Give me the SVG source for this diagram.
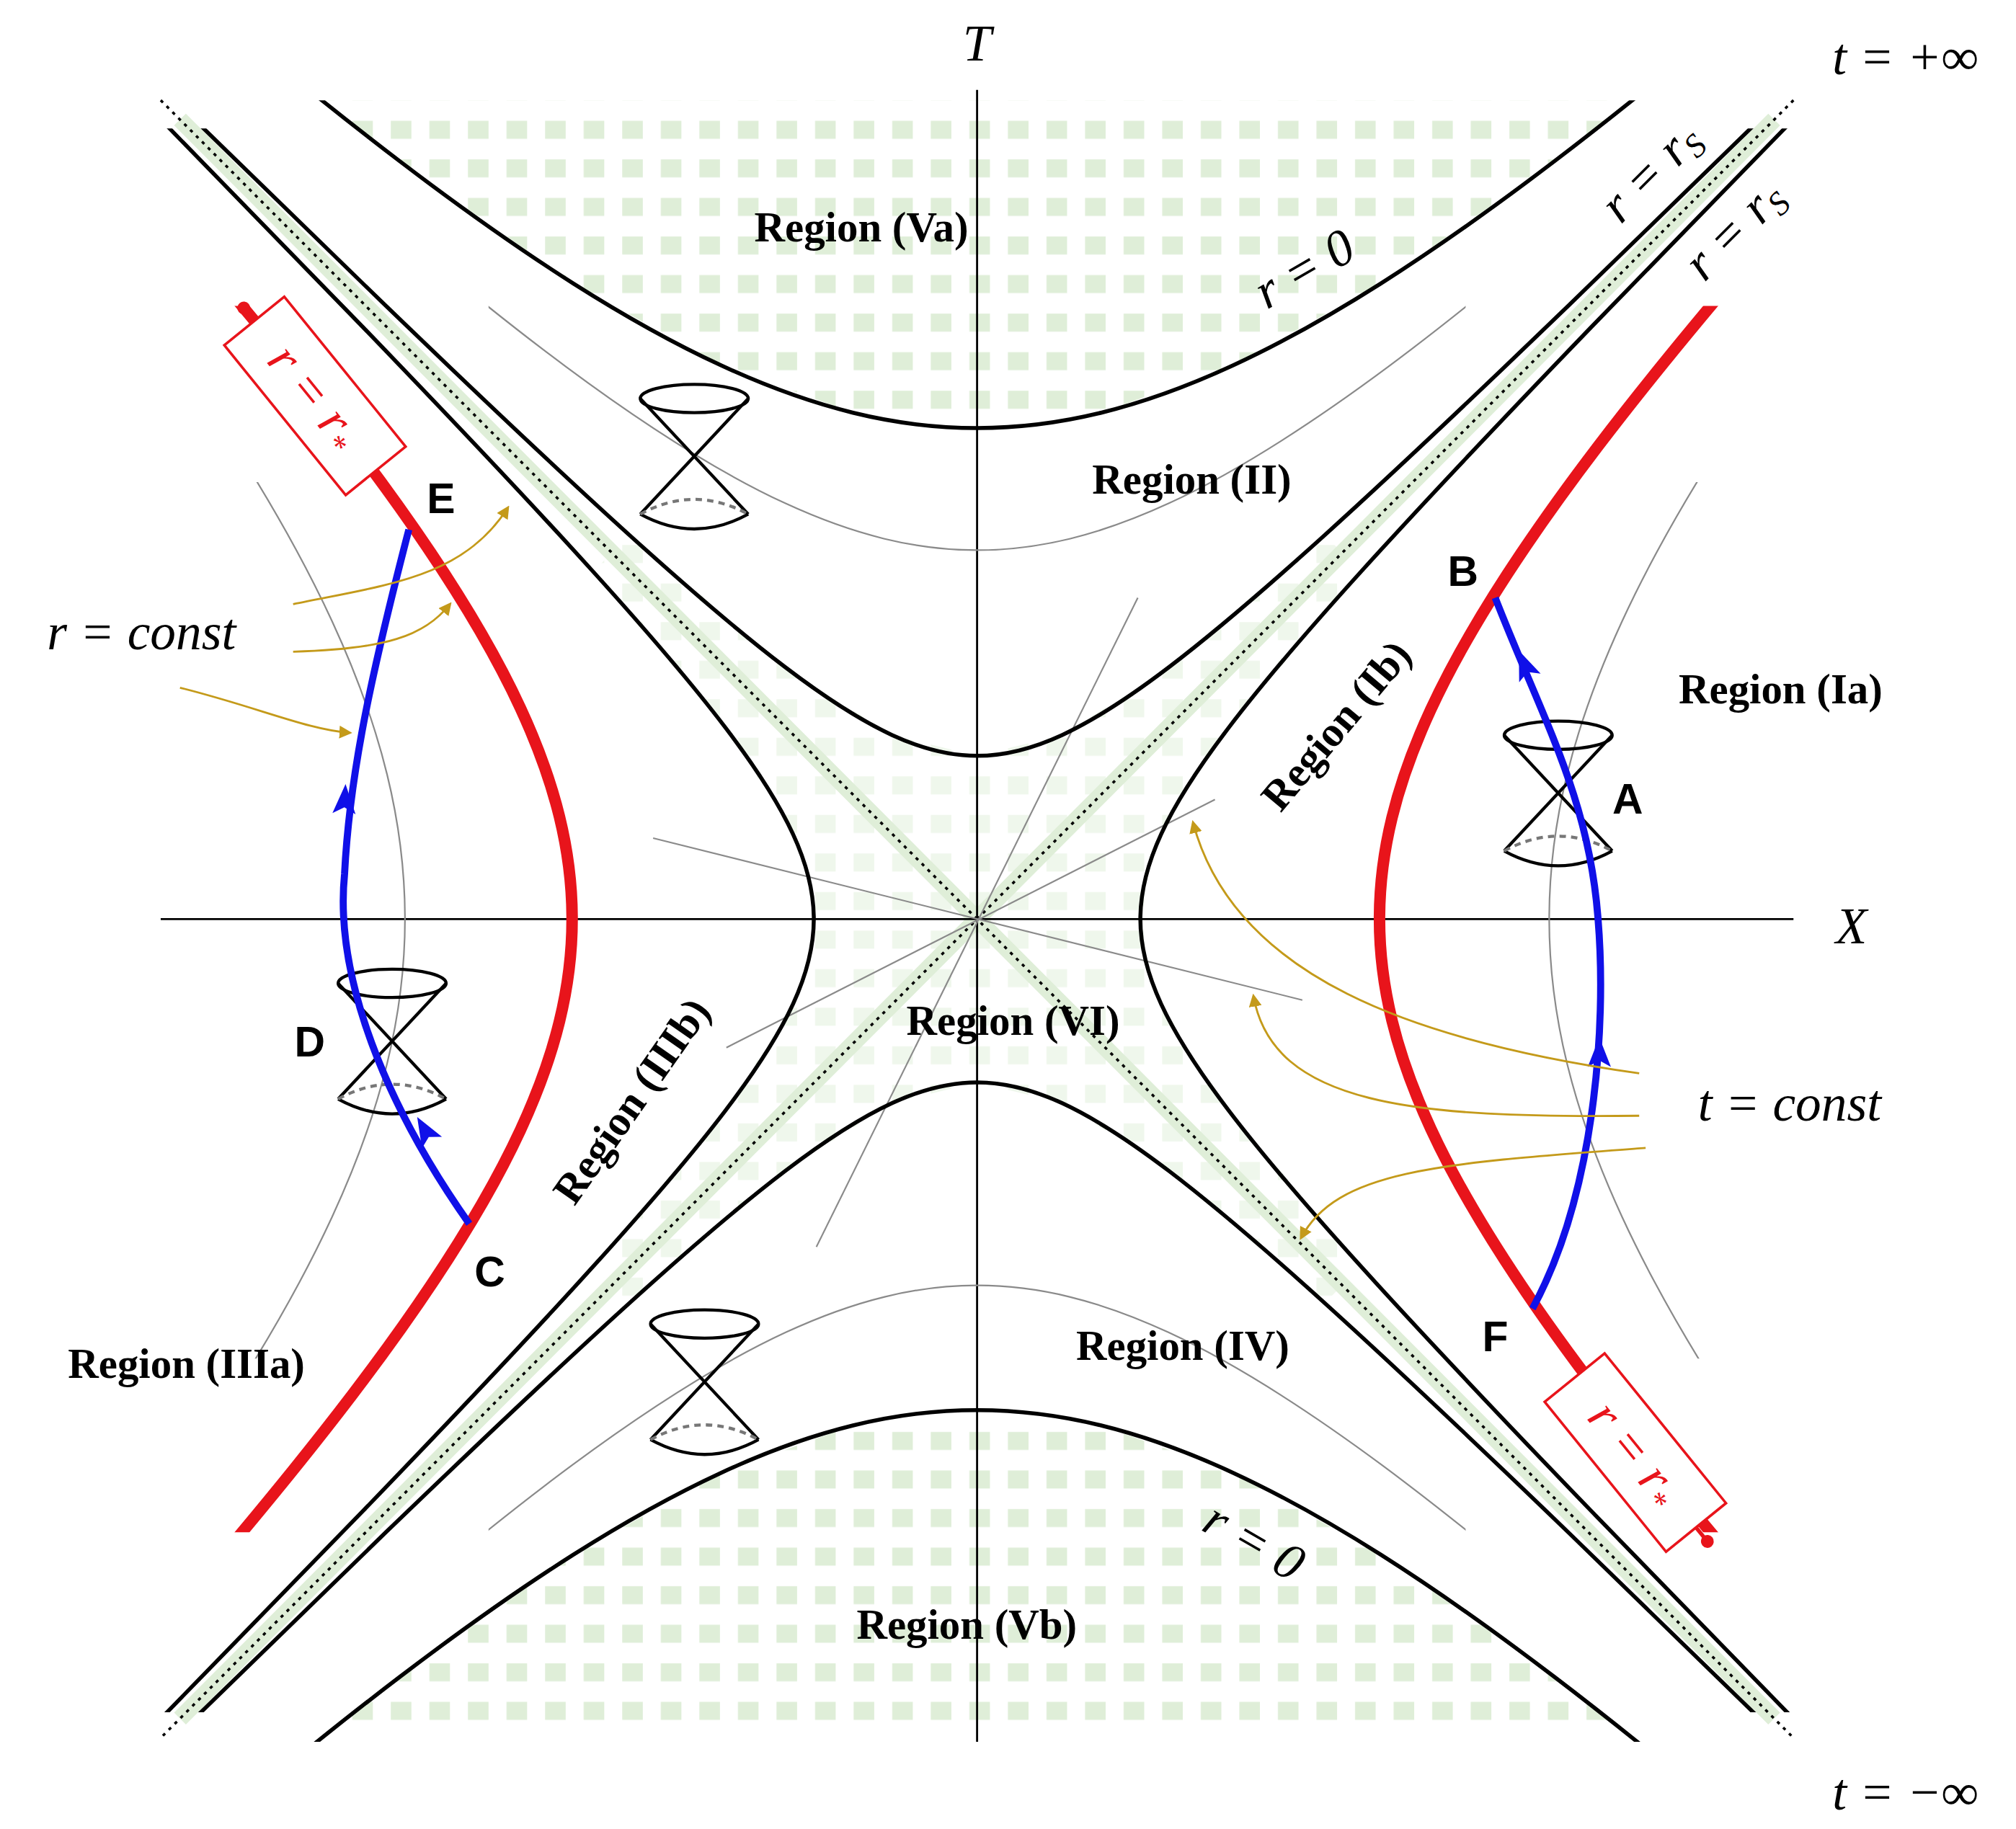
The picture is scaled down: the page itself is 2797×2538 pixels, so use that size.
<svg xmlns="http://www.w3.org/2000/svg" width="2797" height="2538" viewBox="0 0 2797 2538">
<style>
.hyp{fill:none;stroke:#000;stroke-width:5.5}
.red{fill:none;stroke:#e8141b;stroke-width:16}
.gry{fill:none;stroke:#8a8a8a;stroke-width:2.2}
.gl{fill:none;stroke:#8a8a8a;stroke-width:1.2}
.ax{stroke:#000;stroke-width:1.6}
.dot{stroke:#000;stroke-width:2;stroke-dasharray:2.5 4}
.gold{fill:none;stroke:#c49a1a;stroke-width:1.6;marker-end:url(#ga)}
.blue{fill:none;stroke:#1010e8;stroke-width:5.5}
.reg{font-family:"Liberation Serif",serif;font-weight:bold;font-size:33px;text-anchor:middle}
.m{font-family:"Liberation Serif",serif;font-style:italic;font-size:40px;text-anchor:middle}
.pt{font-family:"Liberation Sans",sans-serif;font-weight:bold;font-size:33px;text-anchor:middle}
.cone{fill:none;stroke:#000;stroke-width:2.4}
</style>
<defs>
<path id="h" fill="none" vector-effect="non-scaling-stroke" d="M5.0372,-4.937 C4.5435,-4.4333 4.1249,-4.0031 3.7622,-3.6269 C3.1577,-2.9999 2.7073,-2.5214 2.3524,-2.1293 C1.9975,-1.7372 1.739,-1.4324 1.5431,-1.1752 C1.3472,-0.918 1.2145,-0.7091 1.1276,-0.5211 C1.0407,-0.3331 1,-0.1667 1,0 C1,0.1667 1.0407,0.3331 1.1276,0.5211 C1.2145,0.7091 1.3472,0.918 1.5431,1.1752 C1.739,1.4324 1.9975,1.7372 2.3524,2.1293 C2.7073,2.5214 3.1577,2.9999 3.7622,3.6269 C4.1249,4.0031 4.5435,4.4333 5.0372,4.937"/>
<pattern id="gp" width="30" height="30" patternUnits="userSpaceOnUse"><rect x="4" y="4" width="16" height="14" fill="#dfeed8"/></pattern>
<marker id="ga" markerWidth="10" markerHeight="10" refX="8" refY="5" orient="auto" markerUnits="userSpaceOnUse"><path d="M0,0 L10,5 L0,10 Z" fill="#c49a1a"/></marker>
<clipPath id="c1"><rect x="0" y="100" width="1568" height="1232"/></clipPath>
<clipPath id="c0"><rect x="0" y="78" width="1568" height="1277"/></clipPath>
<clipPath id="cr"><rect x="0" y="238" width="1568" height="954"/></clipPath>
<clipPath id="cgv"><rect x="0" y="375" width="1568" height="682"/></clipPath>
<clipPath id="cgh"><rect x="380" y="0" width="760" height="1430"/></clipPath>
<g id="cone" class="cone">
<ellipse cx="0" cy="-45" rx="42" ry="11"/>
<path d="M-42,-45 L42,45 M42,-45 L-42,45"/>
<path d="M-42,45 Q0,68 42,45"/>
<path d="M-42,45 Q0,22 42,45" stroke-dasharray="5 4" stroke="#777"/>
</g>
<path id="ah" d="M0,-15 L9,8 L0,3 L-9,8 Z" fill="#1010e8"/>
</defs>
<rect width="2797" height="2538" fill="#fff"/>
<g transform="scale(1.7837)">
<g id="shading">
<polygon fill="url(#gp)" points="250,78 311,125.5 446,220.4 561,284.3 663.5,321 760,333 856.5,321 959,284.3 1074,220.4 1209,125.5 1270,78"/>
<polygon fill="url(#gp)" points="250,1352 311,1304.5 446,1209.6 561,1145.7 663.5,1109 760,1097 856.5,1109 959,1145.7 1074,1209.6 1209,1304.5 1270,1352"/>
<polygon fill="url(#gp)" opacity="0.5" points="633,715 617,649 564,566 461,445 490,416 611,519 694,572 760,588 826,572 909,519 1030,416 1059,445 956,566 903,649 887,715 903,781 956,864 1059,985 1030,1014 909,911 826,858 760,842 694,858 611,911 490,1014 461,985 564,864 617,781"/>
<path d="M140,93 L1380,1337 M1380,93 L140,1337" stroke="#dfeed8" stroke-width="13"/>
</g>
<g id="axes">
<line class="ax" x1="760" y1="70" x2="760" y2="1355"/>
<line class="ax" x1="125" y1="715" x2="1395" y2="715"/>
<line class="dot" x1="125" y1="78" x2="1395" y2="1352"/>
<line class="dot" x1="1395" y1="78" x2="125" y2="1352"/>
</g>
<g id="tconst">
<line class="gl" x1="885" y1="465" x2="635" y2="970"/>
<line class="gl" x1="945" y1="622" x2="565" y2="815"/>
<line class="gl" x1="508" y1="652" x2="1013" y2="778"/>
</g>
<g id="rconst">
<g clip-path="url(#cgv)"><use href="#h" class="gry" transform="translate(760,715) scale(445)"/><use href="#h" class="gry" transform="translate(760,715) scale(-445,445)"/></g>
<g clip-path="url(#cgh)"><use href="#h" class="gry" transform="translate(760,715) matrix(0,-287,-287,0,0,0)"/><use href="#h" class="gry" transform="translate(760,715) matrix(0,285,-285,0,0,0)"/></g>
</g>
<g id="horizons">
<g clip-path="url(#c1)">
<use href="#h" class="hyp" transform="translate(760,715) scale(127)"/>
<use href="#h" class="hyp" transform="translate(760,715) scale(-127,127)"/>
<use href="#h" class="hyp" transform="translate(760,715) matrix(0,-127,-127,0,0,0)"/>
<use href="#h" class="hyp" transform="translate(760,715) matrix(0,127,-127,0,0,0)"/>
</g>
<g clip-path="url(#c0)">
<use href="#h" class="hyp" transform="translate(760,715) matrix(0,-382,-382,0,0,0)"/>
<use href="#h" class="hyp" transform="translate(760,715) matrix(0,382,-382,0,0,0)"/>
</g>
</g>
<g id="redcurves" clip-path="url(#cr)">
<use href="#h" class="red" transform="translate(760,715) scale(313)"/>
<use href="#h" class="red" transform="translate(760,715) scale(-315,315)"/>
</g>
<g id="cones">
<use href="#cone" x="540" y="355"/>
<use href="#cone" x="1212" y="617"/>
<use href="#cone" x="305" y="810"/>
<use href="#cone" x="548" y="1075"/>
</g>
<g id="worldlines">
<path class="blue" d="M1192,1018 C1240,930 1250,800 1243,715 C1236,620 1200,560 1163,465"/>
<path class="blue" d="M365,952 C300,860 260,760 268,680 C272,600 290,520 318,412"/>
<use href="#ah" transform="translate(1244,822)"/>
<use href="#ah" transform="translate(1187,520) rotate(-22)"/>
<use href="#ah" transform="translate(332,882) rotate(-30)"/>
<use href="#ah" transform="translate(268,625) rotate(3)"/>
</g>
<g id="rlabelL" transform="translate(245,308) rotate(51)">
<line x1="-90" y1="0" x2="-75" y2="0" stroke="#e8141b" stroke-width="3"/>
<circle cx="-88" cy="0" r="5" fill="#e8141b"/>
<rect x="-75" y="-30" width="150" height="60" fill="#fff" stroke="#e8141b" stroke-width="2"/>
<text x="0" y="13" class="m" fill="#e8141b">r = r<tspan font-size="24" dy="6">*</tspan></text>
</g>
<g id="rlabelR" transform="translate(1272,1130) rotate(51)">
<line x1="75" y1="0" x2="90" y2="0" stroke="#e8141b" stroke-width="3"/>
<circle cx="89" cy="0" r="5" fill="#e8141b"/>
<rect x="-75" y="-30" width="150" height="60" fill="#fff" stroke="#e8141b" stroke-width="2"/>
<text x="0" y="13" class="m" fill="#e8141b">r = r<tspan font-size="24" dy="6">*</tspan></text>
</g>
<g id="connectors">
<path class="gold" d="M228,470 C300,455 360,450 395,395"/>
<path class="gold" d="M228,507 C300,505 330,495 350,470"/>
<path class="gold" d="M140,535 C200,550 240,568 272,570"/>
<path class="gold" d="M1275,835 C1100,810 960,760 928,640"/>
<path class="gold" d="M1275,868 C1100,870 990,860 975,775"/>
<path class="gold" d="M1280,893 C1120,905 1040,910 1012,963"/>
</g>
<g id="labels">
<text class="m" x="760" y="47" font-size="46">T</text>
<text class="m" x="1440" y="734" font-size="46">X</text>
<text class="m" x="1482" y="58" font-size="38">t = +∞</text>
<text class="m" x="1482" y="1408" font-size="38">t = −∞</text>
<text class="m" x="1015" y="222" transform="rotate(-30 1015 210)" font-size="38">r = 0</text>
<text class="m" x="975" y="1212" transform="rotate(30 975 1200)" font-size="38">r = 0</text>
<text class="m" x="1285" y="146" transform="rotate(-45 1285 135)" font-size="36">r = r<tspan font-size="26" dy="6">S</tspan></text>
<text class="m" x="1350" y="191" transform="rotate(-45 1350 180)" font-size="36">r = r<tspan font-size="26" dy="6">S</tspan></text>
<text class="m" x="110" y="505">r = const</text>
<text class="m" x="1392" y="872">t = const</text>
<text class="reg" x="670" y="188">Region (Va)</text>
<text class="reg" x="927" y="384">Region (II)</text>
<text class="reg" x="1385" y="547">Region (Ia)</text>
<text class="reg" x="1040" y="575" transform="rotate(-50 1040 565)">Region (Ib)</text>
<text class="reg" x="145" y="1072">Region (IIIa)</text>
<text class="reg" x="492" y="867" transform="rotate(-55 492 857)">Region (IIIb)</text>
<text class="reg" x="788" y="805">Region (VI)</text>
<text class="reg" x="920" y="1058">Region (IV)</text>
<text class="reg" x="752" y="1275">Region (Vb)</text>
<text class="pt" x="343" y="399">E</text>
<text class="pt" x="1138" y="456">B</text>
<text class="pt" x="1266" y="633">A</text>
<text class="pt" x="241" y="822">D</text>
<text class="pt" x="381" y="1001">C</text>
<text class="pt" x="1163" y="1051">F</text>
</g>
</g>
</svg>
